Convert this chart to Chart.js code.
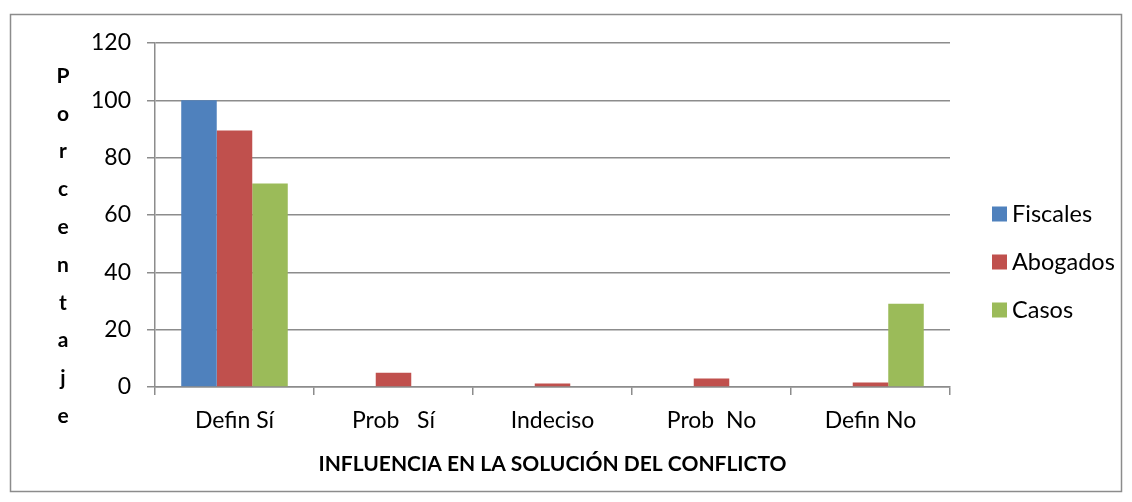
<!DOCTYPE html>
<html>
<head>
<meta charset="utf-8">
<script src="https://cdn.jsdelivr.net/npm/chart.js@4"></script>
<style>
  html, body { margin: 0; padding: 0; background: #fff; }
  #wrap { width: 1132px; height: 502px; }
</style>
</head>
<body>
<div id="wrap"><canvas id="chart" width="1132" height="502"></canvas></div>
<script>
const categories = ['Defin Sí', 'Prob   Sí', 'Indeciso', 'Prob  No', 'Defin No'];
const fiscales = [100, 0, 0, 0, 0];
const abogados = [89.5, 5, 1.2, 3, 1.6];
const casos = [71, 0, 0, 0, 29];
const seriesNames = ['Fiscales', 'Abogados', 'Casos'];
const colors = ['#4F81BD', '#C0504D', '#9BBB59'];
const yTitle = 'Porcentaje';
const xTitle = 'INFLUENCIA EN LA SOLUCIÓN DEL CONFLICTO';

const FONT = 'Lato, "Open Sans", sans-serif';

// marco exterior + titulo vertical letra a letra + leyenda
const extras = {
  id: 'extras',
  afterDraw(chart) {
    const ctx = chart.ctx;
    ctx.save();
    ctx.strokeStyle = '#8c8c8c';
    ctx.lineWidth = 1.5;
    ctx.strokeRect(10.5, 14.5, 1111, 477);

    ctx.fillStyle = '#000';
    ctx.font = 'bold 21px ' + FONT;
    ctx.textAlign = 'center';
    ctx.textBaseline = 'middle';
    yTitle.split('').forEach((ch, i) => ctx.fillText(ch, 63, 76 + i * 37.8));

    ctx.font = '23.5px ' + FONT;
    ctx.textAlign = 'left';
    chart.data.datasets.forEach((ds, i) => {
      const y = 214 + i * 48;
      ctx.fillStyle = ds.backgroundColor;
      ctx.fillRect(992, y - 7.5, 15, 15);
      ctx.fillStyle = '#000';
      ctx.fillText(ds.label, 1012, y);
    });
    ctx.restore();
  }
};

new Chart(document.getElementById('chart'), {
  type: 'bar',
  data: {
    labels: categories,
    datasets: [
      { label: seriesNames[0], data: fiscales, backgroundColor: colors[0] },
      { label: seriesNames[1], data: abogados, backgroundColor: colors[1] },
      { label: seriesNames[2], data: casos, backgroundColor: colors[2] }
    ]
  },
  options: {
    responsive: false,
    animation: false,
    layout: { padding: { left: 0, right: 182, top: 43, bottom: 0 } },
    categoryPercentage: 0.67,
    barPercentage: 1.0,
    plugins: { legend: { display: false }, tooltip: { enabled: false } },
    scales: {
      x: {
        afterFit(scale) { scale.height = 115; },
        grid: { display: true, drawOnChartArea: false, offset: true, color: '#8c8c8c', lineWidth: 1.5, tickLength: 8 },
        border: { color: '#8c8c8c', width: 1.5 },
        ticks: { color: '#000', font: { family: FONT, size: 23 }, padding: 12, maxRotation: 0 },
        title: { display: true, text: xTitle, color: '#000', font: { family: FONT, size: 21, weight: 'bold' }, padding: { top: 0, bottom: 25 } }
      },
      y: {
        min: 0, max: 120,
        afterFit(scale) { scale.width = 155; },
        grid: { color: '#8c8c8c', lineWidth: 1.5, tickLength: 8 },
        border: { color: '#8c8c8c', width: 1.5 },
        ticks: { stepSize: 20, color: '#000', font: { family: FONT, size: 23 }, padding: 16 }
      }
    }
  },
  plugins: [extras]
});
</script>
</body>
</html>
